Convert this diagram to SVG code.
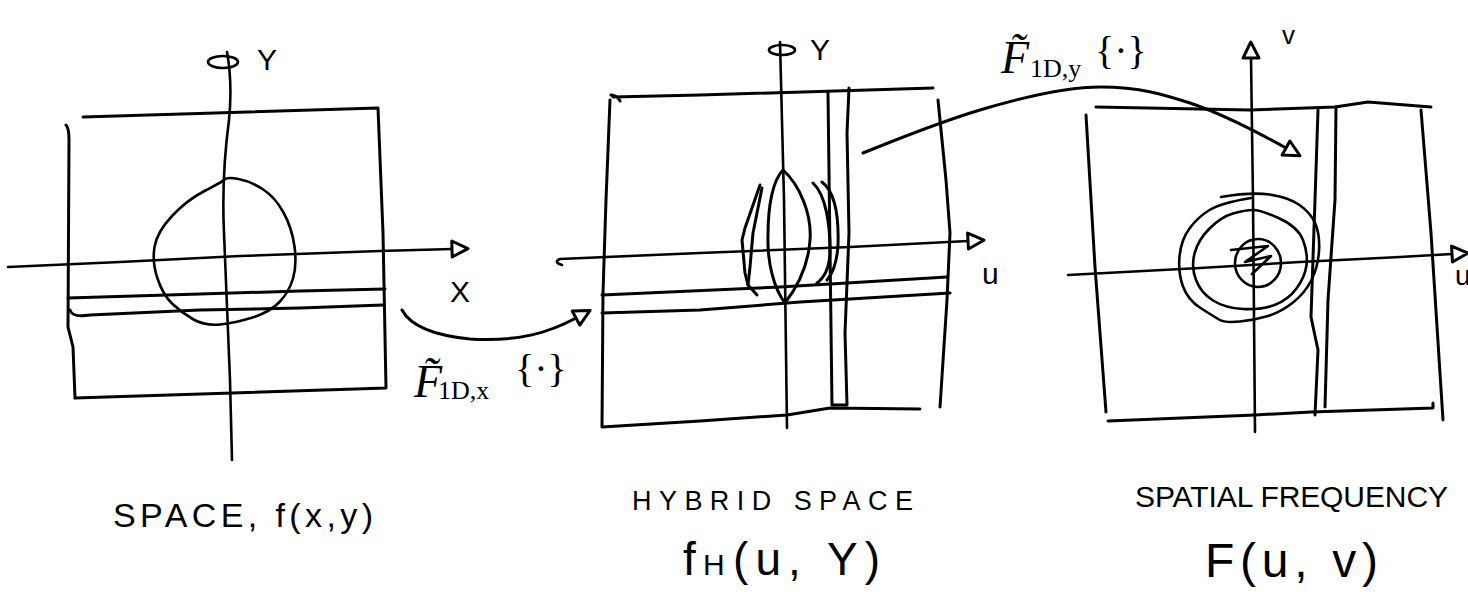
<svg xmlns="http://www.w3.org/2000/svg" width="1468" height="592" viewBox="0 0 1468 592">
<style>
.ln{fill:none;stroke:#000;stroke-width:3;stroke-linecap:round;stroke-linejoin:round}
.thin{fill:none;stroke:#000;stroke-width:2.6;stroke-linecap:round;stroke-linejoin:round}
.lbl{font-family:"Liberation Sans",Arial,sans-serif;fill:#000}
.op{font-family:"Liberation Serif","DejaVu Serif",serif;fill:#000}
</style>
<defs>
<marker id="tri" viewBox="-3 -11 24 22" refX="0" refY="0" markerWidth="24" markerHeight="22" markerUnits="userSpaceOnUse" orient="auto">
<path d="M0,-8 L16,0 L0,8 Z" fill="#fff" stroke="#000" stroke-width="3" stroke-linejoin="round"/>
</marker>
</defs>
<rect width="1468" height="592" fill="#fff"/>

<g id="panel-space">
<path class="ln" d="M83,117 L378,108 L383,233 L386,388 L75,398"/>
<path class="ln" d="M66,125 Q69,128 69,140 L68,327 L73,347 L75,398"/>
<path class="thin" d="M227,52 C232,80 231,100 229,120 C225,150 222,190 224,233 C226,280 228,330 230,380 L232,460"/>
<ellipse class="thin" cx="223" cy="62" rx="15" ry="6"/>
<text class="lbl" x="257" y="70" font-size="30">Y</text>
<path class="thin" d="M224.5,179.5 Q227,177 238.5,179 Q250,181 262.5,189 Q275,197 283.5,212.5 Q292,228 294.5,246.5 Q297,265 293,278.5 Q289,292 279.5,302 Q270,312 252.5,317.5 Q235,323 220,324.5 Q205,326 193.5,319.5 Q182,313 172.5,304 Q163,295 157.5,278.5 Q152,262 154.5,247 Q157,232 172,216 Q187,200 204.5,191 Q222,182 224.5,179.5 Z"/>
<path class="thin" d="M8,267 L120,262 L240,256 L380,251 L452,249" marker-end="url(#tri)"/>
<text class="lbl" x="450" y="302" font-size="30">X</text>
<path class="ln" d="M68,298 L200,294 L300,291 L385,289"/>
<path class="ln" d="M70,310 Q72,318 90,315 L200,310 L300,308 L383,305"/>
<text class="lbl" x="113" y="527" font-size="34" textLength="260" lengthAdjust="spacing">SPACE, f(x,y)</text>
</g>

<g id="panel-hybrid">
<path class="ln" d="M611,95 Q618,96 620,101 M613,97 L700,95 L933,88"/>
<path class="ln" d="M610,100 L606,200 L603,293 L602,427 L700,421 L787,415 L830,408 L920,409"/>
<path class="ln" d="M938,100 L946,180 L950,233 L947,300 L940,407"/>
<path class="ln" d="M828,93 L830,250 L832,405 L847,405 L845,333 L849,233 L847,133 L849,88"/>
<path class="thin" d="M780,42 L784,200 L787,428"/>
<ellipse class="thin" cx="782" cy="50" rx="13" ry="5"/>
<text class="lbl" x="810" y="60" font-size="30">Y</text>
<path class="thin" d="M562,265 Q553,262 560,259 L700,253 L850,247 L968,241" marker-end="url(#tri)"/>
<text class="lbl" x="982" y="284" font-size="30">u</text>
<path class="ln" d="M602,295 L780,287 L947,277"/>
<path class="ln" d="M602,313 L700,310 L800,302 L950,293"/>
<path class="ln" d="M783,170 C800,185 812,215 810,240 C808,270 795,290 785,303 C775,290 767,265 768,235 C768,205 773,180 783,170 Z"/>
<path class="ln" d="M760,185 L745,228 L742,240 L745,273 L748,285 L757,295"/>
<path class="ln" d="M762,188 L753,233 L750,267 L748,285"/>
<path class="ln" d="M813,183 C826,195 830,225 830,250 C830,265 825,277 817,283"/>
<path class="ln" d="M822,182 C835,192 839,215 838,245 C837,262 833,273 827,280"/>
<text class="lbl" x="632" y="510" font-size="27" textLength="281" lengthAdjust="spacing">HYBRID SPACE</text>
<text class="lbl" y="575" font-size="46"><tspan x="683">f</tspan><tspan x="703" font-size="30">H</tspan><tspan x="733" textLength="147" lengthAdjust="spacing">(u, Y)</tspan></text>
</g>

<g id="panel-frequency">
<path class="ln" d="M1096,107 L1250,110 L1335,107 L1368,102 L1431,107"/>
<path class="ln" d="M1086,115 L1095,267 L1106,412"/>
<path class="ln" d="M1108,421 L1255,415 L1311,412 L1433,408 L1433,403"/>
<path class="ln" d="M1421,110 L1431,233 L1443,420"/>
<path class="ln" d="M1318,110 L1315,200 L1311,317 L1318,350 L1315,415"/>
<path class="ln" d="M1336,107 L1335,200 L1328,300 L1325,407"/>
<path class="thin" d="M1255,432 L1253,200 L1251,58" marker-end="url(#tri)"/>
<text class="lbl" x="1282" y="44" font-size="26">v</text>
<path class="thin" d="M1068,275 L1200,268 L1300,262 L1400,257 L1452,254" marker-end="url(#tri)"/>
<text class="lbl" x="1455" y="285" font-size="28">u</text>
<path class="thin" d="M1221,197 Q1251,192 1269.5,194.5 Q1288,197 1299.5,205 Q1311,213 1315.5,224 Q1320,235 1319,251 Q1318,267 1311.5,280 Q1305,293 1293,302.5 Q1281,312 1268,316 Q1255,320 1240,321.5 Q1225,323 1219,319.5 Q1213,316 1200.5,308 Q1188,300 1183,286.5 Q1178,273 1179.5,256.5 Q1181,240 1189.5,228.5 Q1198,217 1209.5,210 Q1221,203 1251,198"/>
<path class="thin" d="M1253,210 Q1261,210 1279.5,218.5 Q1298,227 1303,240 Q1308,253 1306.5,265 Q1305,277 1296.5,288.5 Q1288,300 1274.5,305 Q1261,310 1243,309 Q1225,308 1213,300.5 Q1201,293 1196,280 Q1191,267 1194.5,253.5 Q1198,240 1209.5,228.5 Q1221,217 1233,213.5 Q1245,210 1253,210 Z"/>
<ellipse class="thin" cx="1258" cy="263" rx="23" ry="24"/>
<path class="thin" d="M1231,250 L1268,246 L1245,262 L1271,256 L1252,274"/>
<text class="lbl" x="1135" y="507" font-size="30" textLength="313" lengthAdjust="spacing">SPATIAL FREQUENCY</text>
<text class="lbl" x="1205" y="577" font-size="48" textLength="173" lengthAdjust="spacing">F(u, v)</text>
</g>

<g id="connectors">
<g id="transform-x">
<path class="ln" d="M402,310 C410,325 430,335 470,339 C520,342 550,332 576,318" marker-end="url(#tri)"/>
<text class="op" font-style="italic"><tspan x="414" y="397" font-size="46">F&#771;</tspan><tspan x="438" y="399" font-size="26" font-style="normal">1D,x</tspan><tspan x="515" y="382" font-size="40" font-style="normal">{·}</tspan></text>
</g>
<g id="transform-y">
<path class="ln" d="M863,153 C900,138 940,122 980,110 C1030,95 1070,87 1101,87 C1140,87 1165,95 1190,103 C1220,113 1250,128 1286,148" marker-end="url(#tri)"/>
<text class="op" font-style="italic"><tspan x="1001" y="73" font-size="46">F&#771;</tspan><tspan x="1030" y="77" font-size="26" font-style="normal">1D,y</tspan><tspan x="1095" y="64" font-size="40" font-style="normal">{·}</tspan></text>
</g>
</g>
</svg>
